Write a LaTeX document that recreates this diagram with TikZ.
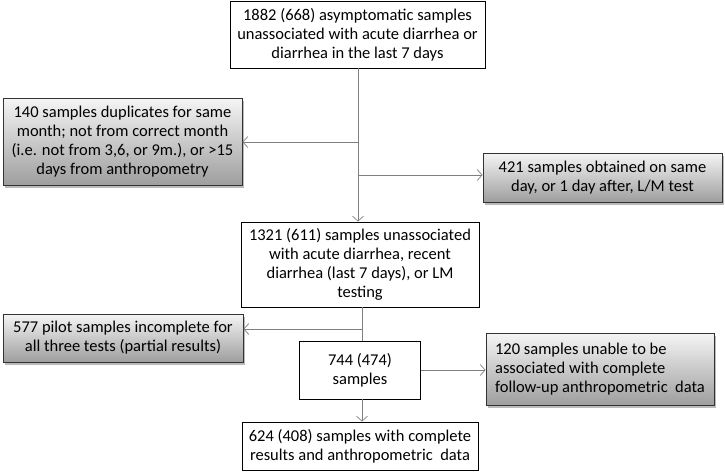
\documentclass[tikz,border=0pt]{standalone}
\usepackage{fontspec}
\setmainfont{Carlito}
\usetikzlibrary{arrows.meta,shadows}

\begin{document}
\begin{tikzpicture}[x = 1pt, y = -1pt,
    every node/.style = {font = \fontsize{16.5}{19}\selectfont, inner sep = 0pt},
    whitebox/.style = {draw = black, line width = 0.8pt, fill = white, align = center},
    graybox/.style = {draw = black!80, line width = 0.8pt, align = center,
      top color = black!4, bottom color = black!38,
      drop shadow = {shadow xshift = 2pt, shadow yshift = -2.5pt, fill = black!45, opacity = 0.6}},
    flow/.style = {draw = black!50, line width = 0.7pt},
    arr/.style = {flow, -{Straight Barb[length = 5pt, width = 11pt, line width = 0.7pt]}}]
      \useasboundingbox (0, 0) rectangle (725, 471);
      \node [whitebox, minimum width = 255pt, minimum height = 67pt] (start) at (357.5, 34.5)
        {1882 (668) asymptomatic samples\\ unassociated with acute diarrhea or\\ diarrhea in the last 7 days};
      \node [graybox, minimum width = 239pt, minimum height = 87pt] (dupl) at (122.5, 141.5)
        {140 samples duplicates for same\\ month; not from correct month\\ (i.e. not from 3,6, or 9m.), or >15\\ days from anthropometry};
      \node [graybox, minimum width = 239pt, minimum height = 49pt] (sameday) at (602.5, 177.5)
        {421 samples obtained on same\\ day, or 1 day after, L/M test};
      \node [whitebox, minimum width = 238pt, minimum height = 85pt] (unassoc) at (360, 264.5)
        {1321 (611) samples unassociated\\ with acute diarrhea, recent\\ diarrhea (last 7 days), or LM\\ testing};
      \node [graybox, minimum width = 240pt, minimum height = 48pt] (pilot) at (123, 338)
        {577 pilot samples incomplete for\\ all three tests (partial results)};
      \node [whitebox, minimum width = 121pt, minimum height = 58pt] (subset) at (360, 370)
        {744 (474)\\ samples};
      \node [graybox, minimum width = 228pt, minimum height = 72pt, align = left] (followup) at (600, 369)
        {120 samples unable to be\\ associated with complete\\ follow-up anthropometric\ \ data};
      \node [whitebox, minimum width = 236pt, minimum height = 48pt] (final) at (360, 446)
        {624 (408) samples with complete\\ results and anthropometric\ \ data};
      \coordinate (s1) at (358, 142);
      \coordinate (s2) at (358, 175);
      \coordinate (s3) at (362, 329);
      \draw [arr] (start.south -| s1) -- (unassoc.north -| s1);
      \draw [arr] (s1) -- (s1 -| dupl.east);
      \draw [arr] (s2) -- (s2 -| sameday.west);
      \draw [flow] (unassoc.south -| s3) -- (subset.north -| s3);
      \draw [arr] (s3) -- (s3 -| pilot.east);
      \draw [arr] (subset.east) -- (subset.east -| followup.west);
      \draw [arr] (subset.south -| s3) -- (final.north -| s3);
    \end{tikzpicture}
\end{document}
